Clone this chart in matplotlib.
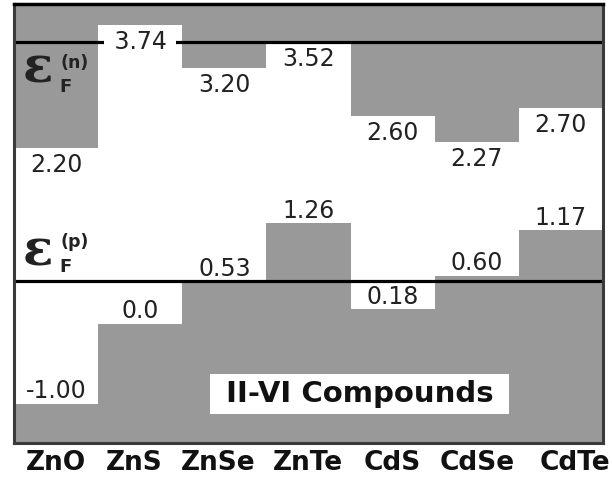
import matplotlib
matplotlib.use("Agg")
import matplotlib.pyplot as plt

# ---- data ----
compounds = ["ZnO", "ZnS", "ZnSe", "ZnTe", "CdS", "CdSe", "CdTe"]
ef_n = [2.20, 3.74, 3.20, 3.52, 2.60, 2.27, 2.70]
ef_p = [-1.00, 0.0, 0.53, 1.26, 0.18, 0.60, 1.17]
ef_n_labels = ["2.20", "3.74", "3.20", "3.52", "2.60", "2.27", "2.70"]
ef_p_labels = ["-1.00", "0.0", "0.53", "1.26", "0.18", "0.60", "1.17"]
pin_n = 3.52
pin_p = 0.53

# ---- layout ----
Y_TOP = 4.0
Y_BOT = -1.49
GRAY = "#999999"
tick_pos = [0.50, 1.43, 2.43, 3.49, 4.50, 5.50, 6.67]

fig = plt.figure(figsize=(6.12, 4.79), dpi=100)
ax = fig.add_axes([14 / 612, 36 / 479, 589 / 612, 439 / 479])
ax.set_xlim(0, len(compounds))
ax.set_ylim(Y_BOT, Y_TOP)

x = [i + 0.5 for i in range(len(compounds))]

# hanging n-type bars from top
ax.bar(x, [Y_TOP - v for v in ef_n], bottom=ef_n, width=1.0,
       color=GRAY, linewidth=0, zorder=1)
# rising p-type bars from bottom
ax.bar(x, [v - Y_BOT for v in ef_p], bottom=Y_BOT, width=1.0,
       color=GRAY, linewidth=0, zorder=1)

ax.axhline(pin_n, color="black", lw=2.3, zorder=2)
ax.axhline(pin_p, color="black", lw=2.3, zorder=2)

num_font = dict(fontsize=17, family="DejaVu Sans", color="#222222",
                ha="center", va="center", zorder=4)
for xi, v, lab in zip(x, ef_n, ef_n_labels):
    if v > pin_n:
        ax.annotate(" " + lab + " ", xy=(xi, v), xytext=(0, -17),
                    textcoords="offset pixels",
                    bbox=dict(boxstyle="square,pad=0.1", fc="white", ec="none"),
                    **num_font)
    else:
        ax.annotate(lab, xy=(xi, v), xytext=(0, -17),
                    textcoords="offset pixels", **num_font)
for xi, v, lab in zip(x, ef_p, ef_p_labels):
    ax.annotate(lab, xy=(xi, v), xytext=(0, 12.5),
                textcoords="offset pixels", **num_font)

# Fermi-level symbols
for base_y, sup, sup_y, sub_y in [(0.822, "(n)", 0.866, 0.810),
                                  (0.405, "(p)", 0.458, 0.400)]:
    ax.text(0.040, base_y, "ε", transform=ax.transAxes, fontsize=36,
            family="DejaVu Serif", weight="bold", color="#222222",
            ha="center", va="baseline", zorder=4)
    ax.text(0.103, sup_y, sup, transform=ax.transAxes, fontsize=12.5,
            family="DejaVu Sans", weight="bold", color="#222222",
            ha="center", va="center", zorder=4)
    ax.text(0.087, sub_y, "F", transform=ax.transAxes, fontsize=13,
            family="DejaVu Sans", weight="bold", color="#222222",
            ha="center", va="center", zorder=4)

ax.text(0.5866, 0.1116, " II-VI Compounds ", transform=ax.transAxes,
        fontsize=21, family="DejaVu Sans", weight="bold", color="#111111",
        ha="center", va="center", zorder=4,
        bbox=dict(boxstyle="square,pad=0.2", fc="white", ec="none"))

ax.set_xticks(tick_pos)
ax.set_xticklabels(compounds, fontsize=19, family="DejaVu Sans",
                   weight="bold", color="#111111")
ax.tick_params(axis="x", length=0, pad=5)
ax.set_yticks([])

for side in ["left", "right", "bottom"]:
    ax.spines[side].set_color("#3a3a3a")
    ax.spines[side].set_linewidth(2.2)
ax.spines["top"].set_color("black")
ax.spines["top"].set_linewidth(2.5)
for s in ax.spines.values():
    s.set_zorder(5)

fig.savefig("out.png", dpi=100)
